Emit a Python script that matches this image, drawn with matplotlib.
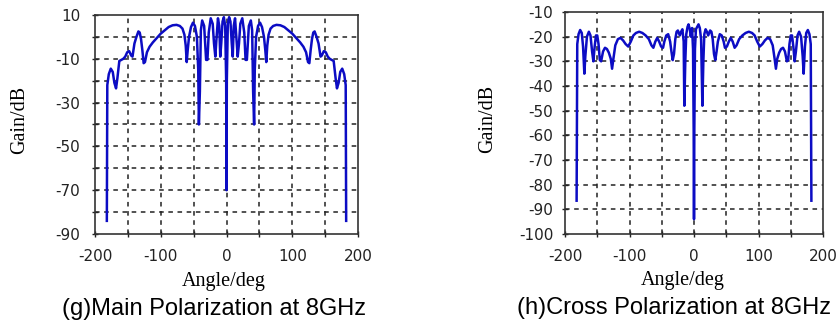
import matplotlib.pyplot as plt
from matplotlib.ticker import FixedLocator, FuncFormatter

# main polarization at 8 GHz
main_angle = [-182, -181.3, -179, -176, -173, -170.5, -168, -166, -163, -160, -157, -154,
              -151, -148, -145, -143, -140, -137, -134, -132, -130, -128, -126, -124,
              -121, -117, -112, -106, -100, -94, -88, -82, -76, -71, -67, -64, -62,
              -60.5, -59, -57, -54, -51, -48, -45, -43, -42, -40.5, -39, -37, -34, -31,
              -29, -27, -24, -21, -19, -17, -15.5, -13, -11, -9.5, -8, -6, -4, -2,
              -0.5, 0, 0.5, 2, 4, 6, 8, 9.5, 11, 13, 15.5, 17, 19, 21, 24, 27, 29, 31,
              34, 37, 39, 40.5, 42, 43, 45, 48, 51, 54, 57, 59, 60.5, 62, 64, 67, 71,
              76, 82, 88, 94, 100, 106, 112, 117, 121, 124, 126, 128, 130, 132, 134,
              137, 140, 143, 145, 148, 151, 154, 157, 160, 163, 166, 168, 170.5, 173,
              176, 179, 181.3, 182]
main_gain = [-84, -22, -17, -14.5, -16, -21, -23.5, -19, -11, -10.5, -10, -9,
             -7, -6.5, -8.5, -9, -3, 0, 2.5, 2, -1, -6, -12, -11.5,
             -7, -4.5, -2.5, -0.5, 1.5, 3, 4.5, 5.3, 5.5, 5, 3.8, 1, -4,
             -11.5, -6, 0, 4.5, 6.5, 5, 0, -15, -40, -25, 3, 7.5, 5, -10.5,
             -10.5, 2, 8.5, 6, -3, -9, -2, 8.5, 5, -9, -3, 7, 9, 5,
             -20, -70, -20, 6, 9, 7, -3, -9, 5, 8.5, -2, -9, -3, 6, 8.5, 2, -10.5, -10.5,
             5, 7.5, 3, -25, -40, -15, 0, 5, 6.5, 4.5, 0, -6, -11.5, -4, 1, 3.8, 5,
             5.5, 5.3, 4.5, 3, 1.5, -0.5, -2.5, -4.5, -7, -11.5, -12, -6, -1, 2, 2.5,
             0, -3, -9, -8.5, -6.5, -7, -9, -10, -10.5, -11, -19, -23.5, -21, -16,
             -14.5, -17, -22, -84]

# cross polarization at 8 GHz
cross_angle = [-182, -181, -179, -176.5, -174, -172, -170, -168.5, -166, -163, -160.5,
               -158, -156, -154, -152, -150, -148, -146, -144, -141, -138, -135, -132,
               -129, -127, -125, -122, -118, -114, -110, -106, -102, -98, -94, -90, -85,
               -80, -75, -70, -66, -63, -60, -57, -54, -51, -48, -46, -43, -40, -37, -35,
               -33, -31, -29, -27, -25, -22, -20, -18, -16, -15, -13.5, -12, -10, -8.5,
               -6.5, -5, -3, -1.5, -0.5, 0, 0.5, 1.5, 3, 5, 7, 9, 11, 13, 14.5, 16, 18,
               20, 22, 25, 27, 29, 31, 33, 35, 37, 40, 43, 46, 48, 51, 54, 57, 60, 63,
               66, 70, 75, 80, 85, 90, 94, 98, 102, 106, 110, 114, 118, 122, 125, 127,
               129, 132, 135, 138, 141, 144, 146, 148, 150, 152, 154, 156, 158, 160.5,
               163, 166, 168.5, 170, 172, 174, 176.5, 179, 181, 182]
cross_gain = [-86.5, -23, -19, -17.3, -18.5, -24, -35, -28, -20, -18, -19.5,
              -26, -30, -24, -19.5, -19.5, -23, -29.5, -30, -26, -24.5, -25, -26.5,
              -29, -33, -29, -23.5, -21, -20.5, -21.5, -23, -24, -22, -19.5, -18.5, -18,
              -18.5, -19.5, -21, -23.5, -24.5, -22, -20.5, -22, -24, -24.5, -22, -19.5,
              -19, -22, -26, -29.5, -27, -21, -18, -17.5, -19.5, -18, -17, -22, -48,
              -30, -19, -16, -15, -17, -20, -16.5, -25, -58, -94, -58, -25, -17, -16,
              -15, -16.5, -21, -48, -30, -19, -17, -18, -19.5, -17.5, -18, -21, -27,
              -29.5, -26, -22, -19, -19.5, -22, -24.5, -24, -22, -20.5, -22, -24.5,
              -23.5, -21, -19.5, -18.5, -18, -18.5, -19.5, -22, -24, -23, -21.5, -20.5,
              -21, -23.5, -29, -33, -29, -26.5, -25, -24.5, -26, -30, -29.5, -23, -19.5,
              -19.5, -24, -30, -26, -19.5, -18, -20, -28, -35, -24, -18.5, -17.3, -19,
              -23, -86.5]

x_ticks = [-200, -100, 0, 100, 200]
x_grid = [-150, -100, -50, 0, 50, 100, 150]
main_labels = [10, -10, -30, -50, -70, -90]
captions = ["(g)Main Polarization at 8GHz", "(h)Cross Polarization at 8GHz"]

plt.rcParams['axes.unicode_minus'] = False
line_color = '#0c0cc4'

fig = plt.figure(figsize=(8.36, 3.26), dpi=100)
W, H = 836, 326


def make_axes(x0, y0, x1, y1):
    return fig.add_axes([x0 / W, 1 - y1 / H, (x1 - x0) / W, (y1 - y0) / H])


def style_axes(ax, ymin, ymax, label_fmt, ypad):
    ax.set_xlim(-200, 200)
    ax.set_ylim(ymin, ymax)
    ax.xaxis.set_major_locator(FixedLocator(x_grid + [-200, 200]))
    ax.xaxis.set_major_formatter(FuncFormatter(lambda v, p: "%d" % v if v in x_ticks else ""))
    ax.yaxis.set_major_locator(FixedLocator(list(range(ymin, ymax + 1, 10))))
    ax.yaxis.set_major_formatter(FuncFormatter(label_fmt))
    ax.tick_params(direction='inout', length=5, width=1, labelsize=11, colors='#222222')
    ax.tick_params(axis='x', pad=8)
    ax.tick_params(axis='y', pad=ypad)
    for v in x_grid:
        ax.axvline(v, color='#222222', ls=(0, (3, 3)), lw=1.1, zorder=1)
    for v in range(ymin + 10, ymax, 10):
        ax.axhline(v, color='#222222', ls=(0, (3, 3)), lw=1.1, zorder=1)
    for s in ax.spines.values():
        s.set_color('#333333')
        s.set_linewidth(1.2)
    ax.set_xlabel("Angle/deg", fontfamily='Liberation Serif', fontsize=14.5)
    ax.set_ylabel("Gain/dB", fontfamily='Liberation Serif', fontsize=14.5)
    ax.xaxis.label.set_va('center')
    ax.yaxis.label.set_va('center')


ax1 = make_axes(95, 15, 358, 234)
ax1.plot(main_angle, main_gain, color=line_color, lw=1.8, zorder=3)
style_axes(ax1, -90, 10, lambda v, p: "%d" % v if int(round(v)) in main_labels else "", 8)
ax1.xaxis.set_label_coords(0.49, -(281.5 - 234) / 219)
ax1.yaxis.set_label_coords(-(95 - 20) / 263, 0.52)

ax2 = make_axes(565, 12, 823, 234)
ax2.plot(cross_angle, cross_gain, color=line_color, lw=1.8, zorder=3)
style_axes(ax2, -100, -10, lambda v, p: "%d" % v, 6)
ax2.xaxis.set_label_coords((683 - 565) / 258, -(281 - 234) / 222)
ax2.yaxis.set_label_coords(-(565 - 488) / 258, 0.52)

fig.text(214 / W, 1 - 309 / H, captions[0], ha='center', va='center',
         fontfamily='Liberation Sans', fontsize=17)
fig.text(674 / W, 1 - 308 / H, captions[1], ha='center', va='center',
         fontfamily='Liberation Sans', fontsize=17)

fig.savefig("out.png", dpi=100)
